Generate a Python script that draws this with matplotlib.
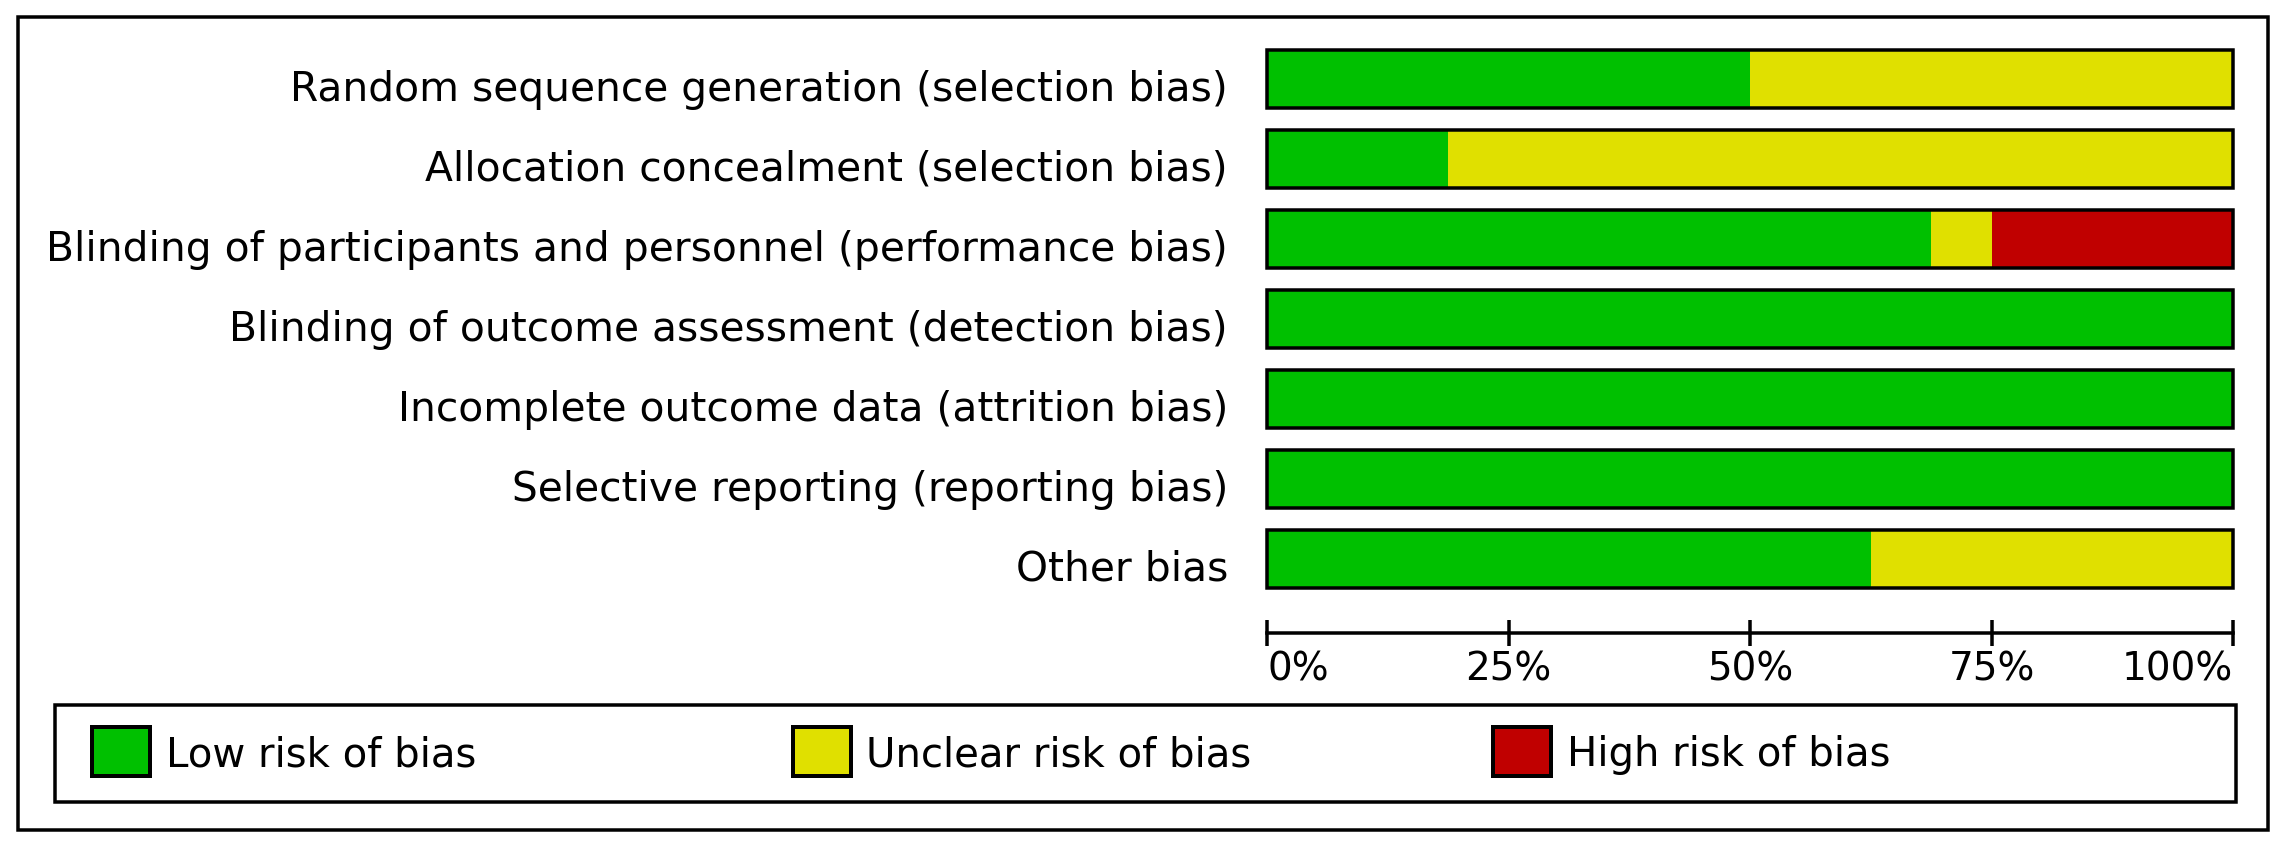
import numpy as np
import matplotlib
matplotlib.use('Agg')
import matplotlib.pyplot as plt
from matplotlib.patches import Rectangle
from matplotlib.transforms import ScaledTranslation

# risk of bias summary, 16 studies
domains = [
    'Random sequence generation (selection bias)',
    'Allocation concealment (selection bias)',
    'Blinding of participants and personnel (performance bias)',
    'Blinding of outcome assessment (detection bias)',
    'Incomplete outcome data (attrition bias)',
    'Selective reporting (reporting bias)',
    'Other bias',
]
n_studies = 16
low = [8, 3, 11, 16, 16, 16, 10]
unclear = [8, 13, 1, 0, 0, 0, 6]
high = [0, 0, 4, 0, 0, 0, 0]

risk_labels = ['Low risk of bias', 'Unclear risk of bias', 'High risk of bias']
risk_colors = ['#00c000', '#e0e000', '#c00000']
x_ticks = [0, 25, 50, 75, 100]
x_ticklabels = ['0%', '25%', '50%', '75%', '100%']

W, H = 2286, 847
PX = 72. / 100  # points per pixel
LW = 3.5 * PX

def fx(x): return x / W
def fy(y): return 1 - y / H

plt.rcParams['font.family'] = ['DejaVu Sans']
fig = plt.figure(figsize=(W / 100, H / 100), dpi=100)

ax = fig.add_axes([fx(1267), fy(599), (2233 - 1267) / W, (599 - 39) / H])
ypos = np.arange(len(domains))
bh = 0.735
lefts = np.zeros(len(domains))
for counts, c in zip([low, unclear, high], risk_colors):
    pct = np.array(counts) / n_studies * 100
    ax.barh(ypos, pct, left=lefts, height=bh, color=c, linewidth=0)
    lefts += pct
ax.barh(ypos, 100, height=bh, fill=False, edgecolor='black',
        linewidth=LW, clip_on=False)

ax.set_xlim(0, 100)
ax.set_ylim(len(domains) - 0.5, -0.5)
for s in ['top', 'right', 'left']:
    ax.spines[s].set_visible(False)
ax.spines['bottom'].set_position(('outward', 34 * PX))
ax.spines['bottom'].set_linewidth(LW)

ax.set_xticks(x_ticks, x_ticklabels)
ax.tick_params(axis='x', direction='inout', length=27 * PX, width=LW,
               pad=4 * PX, labelsize=28)
tl = ax.get_xticklabels()
tl[0].set_ha('left')
tl[-1].set_ha('right')
ax.set_yticks(ypos, domains)
ax.tick_params(axis='y', length=0, pad=39 * PX, labelsize=29.3)
shift = ScaledTranslation(0, -6 / 100, fig.dpi_scale_trans)
for lab in ax.get_yticklabels():
    lab.set_transform(lab.get_transform() + shift)

# outer frame
fig.add_artist(Rectangle((fx(17.5), fy(830)), (2268 - 17.5) / W, (830 - 17.5) / H,
                         transform=fig.transFigure, fill=False, ec='black', lw=LW))
# legend box
fig.add_artist(Rectangle((fx(54.5), fy(801.5)), (2236 - 54.5) / W, (801.5 - 704.5) / H,
                         transform=fig.transFigure, fill=False, ec='black', lw=LW))
for i, (lab, c) in enumerate(zip(risk_labels, risk_colors)):
    x0 = 90 + i * 700.5
    fig.add_artist(Rectangle((fx(x0 + 2), fy(776)), 58 / W, 49 / H,
                             transform=fig.transFigure, fc=c, ec='black', lw=4 * PX))
    fig.text(fx(x0 + 76), fy(766), lab, fontsize=29, va='baseline', ha='left')

fig.savefig('out.png', dpi=100)
